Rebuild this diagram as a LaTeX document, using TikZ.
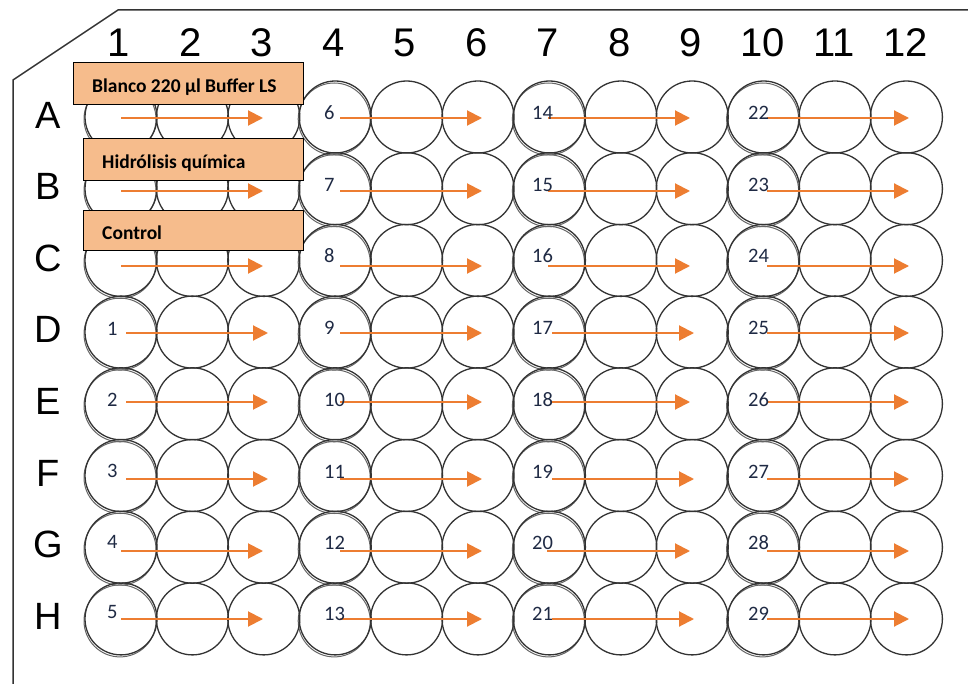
\documentclass[tikz,border=0pt]{standalone}
\usepackage{fontspec}
\setmainfont{Carlito}
\newfontfamily\platefont{Liberation Sans}
\usetikzlibrary{arrows.meta}
\definecolor{arrowor}{HTML}{ED7D31}
\definecolor{boxfill}{HTML}{F6BC8C}
\definecolor{numcol}{HTML}{1F2A44}
\definecolor{wellline}{HTML}{333333}
\definecolor{shadowline}{HTML}{666666}
\tikzset{
  plate/.style={draw=black!80, line width=1.5pt},
  collab/.style={font=\platefont\fontsize{40}{40}\selectfont, inner sep=0pt},
  rowlab/.style={font=\platefont\fontsize{38}{38}\selectfont, inner sep=0pt},
  well/.style={circle, draw=wellline, line width=1.3pt, minimum size=72pt, inner sep=0pt},
  wellshadow/.style={circle, draw=shadowline, line width=1pt, minimum size=72pt, inner sep=0pt},
  labelbox/.style={draw=black, line width=1.1pt, fill=boxfill, rectangle, anchor=north west, inner sep=0pt},
  boxtext/.style={anchor=base west, inner sep=0pt, font=\bfseries\fontsize{19.5}{19.5}\selectfont},
  flow/.style={draw=arrowor, line width=2pt, -{Triangle[length=15pt,width=15pt]}},
  numlab/.style={font=\fontsize{20.5}{20.5}\selectfont, text=numcol, inner sep=0pt, anchor=west}
}
\begin{document}
\begin{tikzpicture}[x=1pt,y=-1pt]
\useasboundingbox (0,0) rectangle (968,684);
\fill[white] (0,0) rectangle (968,684);
% plate outline
\coordinate (pTR) at (968,10);
\coordinate (pTL) at (118,10);
\coordinate (pCL) at (13,80);
\coordinate (pBL) at (13,684);
\draw[plate] (pTR) -- (pTL) -- (pCL) -- (pBL);
% column labels
\foreach \c in {1,...,12} {
  \node[collab] (col-\c) at ({119+71.5*(\c-1)},43) {\c};
}
% row labels
\foreach \r/\L in {0/A,1/B,2/C,3/D,4/E,5/F,6/G,7/H} {
  \node[rowlab] (row-\L) at (48,{115+71.6*\r}) {\L};
}
% wells
\foreach \r in {0,...,7} {
  \foreach \c in {1,4,7,10} {
    \node[wellshadow] (ws-\r-\c) at ({121+71.4*(\c-1)-1},{117+71.7*\r+2}) {};
  }
  \foreach \c in {1,...,12} {
    \node[well] (w-\r-\c) at ({121+71.4*(\c-1)},{117+71.7*\r}) {};
  }
}
% label boxes
\node[labelbox, minimum width=230pt, minimum height=42pt] (boxA) at (73,62) {};
\node[boxtext] (tA) at ([xshift=19pt,yshift=-8.7pt]boxA.west) {Blanco 220 µl Buffer LS};
\node[labelbox, minimum width=220pt, minimum height=42pt] (boxB) at (83,138) {};
\node[boxtext] (tB) at ([xshift=19pt,yshift=-8.7pt]boxB.west) {Hidrólisis química};
\node[labelbox, minimum width=220pt, minimum height=40pt] (boxC) at (83,210) {};
\node[boxtext] (tC) at ([xshift=19pt,yshift=-9.2pt]boxC.west) {Control};
% arrows: row / arrow y / block1 start,end / block3 start,end
\foreach \r/\ay/\sa/\ea/\sc/\ec in {
  0/118/121/263/548/690,
  1/191/121/263/548/690,
  2/266/121/263/548/690,
  3/333/126/268/552/694,
  4/402/126/268/552/690,
  5/479/126/268/552/694,
  6/551/121/263/547/690,
  7/619/121/263/552/694} {
  \coordinate (s1-\r) at (\sa,\ay);  \coordinate (e1-\r) at (\ea,\ay);
  \coordinate (s2-\r) at (340,\ay);  \coordinate (e2-\r) at (482,\ay);
  \coordinate (s3-\r) at (\sc,\ay);  \coordinate (e3-\r) at (\ec,\ay);
  \coordinate (s4-\r) at (767,\ay);  \coordinate (e4-\r) at (909,\ay);
  \draw[flow] (s1-\r) -- (e1-\r);
  \draw[flow] (s2-\r) -- (e2-\r);
  \draw[flow] (s3-\r) -- (e3-\r);
  \draw[flow] (s4-\r) -- (e4-\r);
}
% sample numbers
\foreach \r/\ny/\a/\b/\d in {
  0/113/6/14/22, 1/185/7/15/23, 2/256/8/16/24, 3/328/9/17/25,
  4/400/10/18/26, 5/472/11/19/27, 6/543/12/20/28, 7/614/13/21/29} {
  \node[numlab] (n2-\r) at (324,\ny) {\a};
  \node[numlab] (n3-\r) at (532,\ny) {\b};
  \node[numlab] (n4-\r) at (748,\ny) {\d};
}
\foreach \r/\ny/\a in {3/329/1, 4/400/2, 5/471/3, 6/542/4, 7/612/5} {
  \node[numlab] (n1-\r) at (107,\ny) {\a};
}
\end{tikzpicture}
\end{document}
